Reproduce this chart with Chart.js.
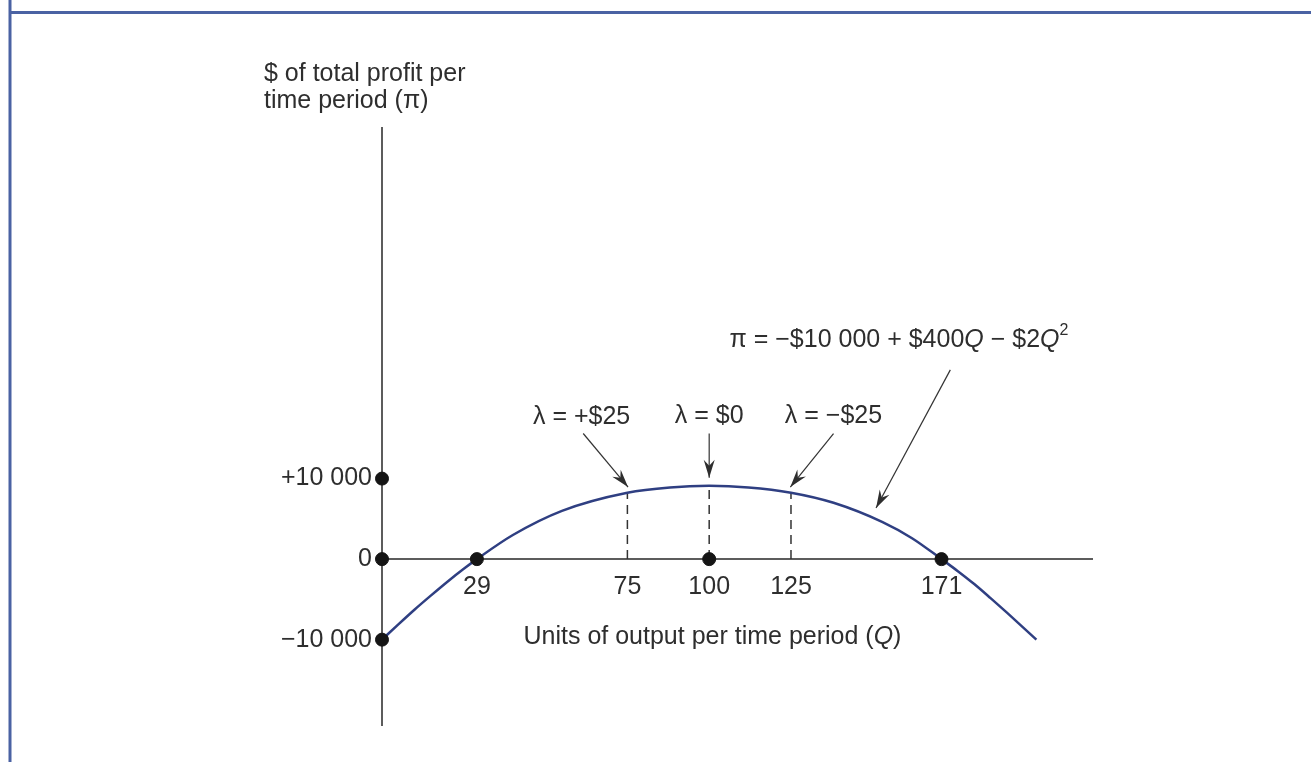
<!DOCTYPE html>
<html>
<head>
<meta charset="utf-8">
<script src="https://cdn.jsdelivr.net/npm/chart.js@4.4.1/dist/chart.umd.min.js"></script>
<style>
  html, body { margin: 0; padding: 0; background: #fff; }
  canvas { display: block; }
</style>
</head>
<body>
<canvas id="myChart" width="1311" height="762"></canvas>
<script>
// values
const quantity = [0, 5, 10, 15, 20, 25, 29, 40, 55, 75, 88, 100, 112, 125, 138, 153, 162, 171, 176, 181, 186, 191, 196, 200];
const profit = [-10000, -8100, -6250, -4500, -2800, -1200, 0, 3000, 6000, 8250, 8900, 9100, 8900, 8250, 7000, 4600, 2600, 0, -1500, -3100, -4850, -6650, -8500, -10000];

const xTicks = [29, 75, 100, 125, 171];
const yTicks = [-10000, 0, 10000];

const dotQ = [0, 0, 0, 29, 100, 171];
const dotProfit = [10000, 0, -10000, 0, 0, 0];

const lambdaQ = [75, 100, 125];
const lambdaProfit = [8250, 9100, 8250];
const lambdaLabels = ["λ = +$25", "λ = $0", "λ = −$25"];

const FONT = '"Liberation Sans", Arial, Helvetica, sans-serif';
const TEXT = "#2e2e2e";
const AXIS = "#5c5c5c";
const CURVE = "#2f3f82";

const ctx = document.getElementById("myChart");

function fmt(v) {
  if (v === 0) return "0";
  const s = Math.abs(v).toString().replace(/\B(?=(\d{3})+(?!\d))/g, " ");
  return (v > 0 ? "+" : "−") + s;
}

// label / arrow placements in data units
const lambdaText = [[61, 17600], [100, 17800], [138, 17800]];
const lambdaTail = [[61.5, 15600], [100, 15600], [138, 15600]];
const lambdaTip = [[75.2, 8950], [100, 10100], [124.8, 8950]];
const formulaAt = [158, 27200];
const formulaTail = [173.7, 23500];
const formulaTip = [151, 6350];

function arrow(c, x1, y1, x2, y2) {
  c.beginPath();
  c.moveTo(x1, y1);
  c.lineTo(x2, y2);
  c.stroke();
  const a = Math.atan2(y2 - y1, x2 - x1);
  c.save();
  c.translate(x2, y2);
  c.rotate(a);
  c.beginPath();
  c.moveTo(0, 0);
  c.lineTo(-18, -5.5);
  c.lineTo(-12, 0);
  c.lineTo(-18, 5.5);
  c.closePath();
  c.fill();
  c.restore();
}

function rich(c, parts, x, y) {
  let total = 0;
  parts.forEach((p) => {
    c.font = (p.italic ? "italic " : "") + (p.sup ? 16 : 25) + "px " + FONT;
    p.w = c.measureText(p.t).width;
    total += p.w;
  });
  let cx = x - total / 2;
  c.textAlign = "left";
  parts.forEach((p) => {
    c.font = (p.italic ? "italic " : "") + (p.sup ? 16 : 25) + "px " + FONT;
    c.fillText(p.t, cx, p.sup ? y - 10 : y);
    cx += p.w;
  });
}

const frame = {
  id: "frame",
  beforeDraw(chart) {
    const c = chart.ctx;
    c.save();
    c.fillStyle = "#fff";
    c.fillRect(0, 0, chart.width, chart.height);
    c.strokeStyle = "#4a62a3";
    c.lineWidth = 3;
    c.beginPath();
    c.moveTo(10, 0);
    c.lineTo(10, chart.height);
    c.moveTo(8.5, 12.5);
    c.lineTo(chart.width, 12.5);
    c.stroke();
    c.restore();
  },
};

const notes = {
  id: "notes",
  afterDatasetsDraw(chart) {
    const c = chart.ctx;
    const { x, y } = chart.scales;
    const area = chart.chartArea;
    const px = (p) => [x.getPixelForValue(p[0]), y.getPixelForValue(p[1])];
    c.save();
    c.fillStyle = TEXT;
    c.strokeStyle = "#333";
    c.lineWidth = 1.2;
    c.textBaseline = "middle";

    lambdaLabels.forEach((lab, i) => {
      const t = px(lambdaText[i]);
      c.font = "25px " + FONT;
      c.textAlign = "center";
      c.fillText(lab, t[0], t[1]);
      const a = px(lambdaTail[i]);
      const b = px(lambdaTip[i]);
      arrow(c, a[0], a[1], b[0], b[1]);
    });

    const f = px(formulaAt);
    rich(c, [
      { t: "π = −$10 000 + $400" },
      { t: "Q", italic: true },
      { t: " − $2" },
      { t: "Q", italic: true },
      { t: "2", sup: true },
    ], f[0], f[1]);
    const fa = px(formulaTail);
    const fb = px(formulaTip);
    arrow(c, fa[0], fa[1], fb[0], fb[1]);

    // axis titles
    rich(c, [
      { t: "Units of output per time period (" },
      { t: "Q", italic: true },
      { t: ")" },
    ], x.getPixelForValue(101), y.getPixelForValue(0) + 78);

    c.font = "25px " + FONT;
    c.textAlign = "left";
    c.fillText("$ of total profit per", area.left - 118, area.top - 54);
    c.fillText("time period (π)", area.left - 118, area.top - 27);
    c.restore();
  },
};

new Chart(ctx, {
  type: "line",
  data: {
    datasets: [
      {
        data: quantity.map((q, i) => ({ x: q, y: profit[i] })),
        borderColor: CURVE,
        borderWidth: 2.5,
        pointRadius: 0,
        cubicInterpolationMode: "monotone",
        order: 2,
      },
      ...lambdaQ.map((q, i) => ({
        data: [{ x: q, y: 0 }, { x: q, y: lambdaProfit[i] }],
        borderColor: "#333",
        borderWidth: 1.5,
        borderDash: [9, 6],
        pointRadius: 0,
        order: 3,
      })),
      {
        type: "scatter",
        data: dotQ.map((q, i) => ({ x: q, y: dotProfit[i] })),
        backgroundColor: "#151515",
        borderColor: "#151515",
        pointRadius: 6.5,
        clip: false,
        order: 1,
      },
    ],
  },
  options: {
    responsive: false,
    animation: false,
    devicePixelRatio: 1,
    layout: { padding: { left: 0, top: 128, right: 219, bottom: 37 } },
    plugins: { legend: { display: false }, tooltip: { enabled: false } },
    scales: {
      x: {
        type: "linear",
        position: { y: 0 },
        min: 0,
        max: 217,
        afterBuildTicks: (s) => { s.ticks = xTicks.map((v) => ({ value: v })); },
        grid: { display: false, drawTicks: false },
        border: { display: true, color: AXIS, width: 2 },
        ticks: {
          color: TEXT,
          font: { family: FONT, size: 25 },
          padding: 13,
          maxRotation: 0,
          autoSkip: false,
        },
      },
      y: {
        type: "linear",
        position: "left",
        min: -20600,
        max: 53540,
        afterBuildTicks: (s) => { s.ticks = yTicks.map((v) => ({ value: v })); },
        afterFit: (s) => { s.width = 382; },
        grid: { display: false, drawTicks: false },
        border: { display: true, color: AXIS, width: 2 },
        ticks: {
          color: TEXT,
          font: { family: FONT, size: 25 },
          padding: 10,
          callback: (v) => fmt(v),
        },
      },
    },
  },
  plugins: [frame, notes],
});
</script>
</body>
</html>
